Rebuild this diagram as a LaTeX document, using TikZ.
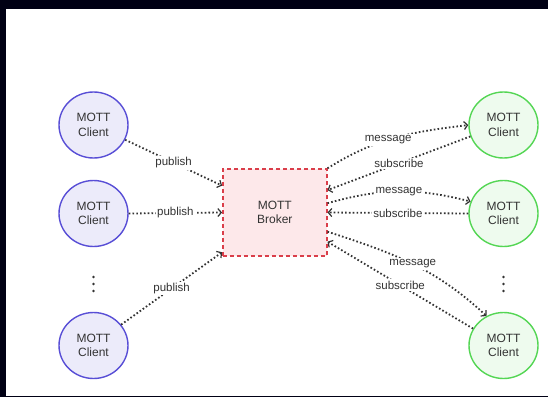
\documentclass[tikz,border=0pt]{standalone}
\usepackage{fontspec}
\setmainfont{Liberation Sans}
\usetikzlibrary{arrows.meta, shapes.geometric, positioning}
\definecolor{txtgray}{RGB}{51,51,51}
\definecolor{pubborder}{RGB}{88,78,214}
\definecolor{pubfill}{RGB}{236,235,250}
\definecolor{subborder}{RGB}{84,214,84}
\definecolor{subfill}{RGB}{238,251,238}
\definecolor{brkborder}{RGB}{218,62,74}
\definecolor{brkfill}{RGB}{253,232,234}
\tikzset{
    pubclient/.style={ellipse, draw=pubborder, fill=pubfill, line width=1.4pt,
        minimum width=69pt, minimum height=66pt, align=center, text=txtgray,
        font=\fontsize{12}{14.5}\selectfont},
    subclient/.style={pubclient, draw=subborder, fill=subfill},
    brokerbox/.style={rectangle, draw=brkborder, fill=brkfill, line width=1.4pt,
        dash pattern=on 4pt off 3pt, minimum width=104pt, minimum height=87pt,
        align=center, text=txtgray, font=\fontsize{12}{14.5}\selectfont},
    flow/.style={draw=txtgray, line width=1.8pt, dash pattern=on 1.6pt off 2.2pt,
        -{Straight Barb[length=3.5pt,width=8pt,line width=1.2pt]}},
    lbl/.style={fill=white, inner sep=1.5pt, text=txtgray,
        font=\fontsize{11.5}{13}\selectfont},
    vdot/.style={fill=txtgray},
}

\begin{document}
\begin{tikzpicture}[x=1pt,y=1pt]
    \fill[black!92!blue] (0,0) rectangle (548,397);
    \fill[white] (6,1) rectangle (548,388);

    \node[brokerbox] (brk) at (274.8,184.5) {MOTT\\Broker};

    \node[pubclient] (pa) at (93.5,272) {MOTT\\Client};
    \node[pubclient] (pb) at (93.5,183.5) {MOTT\\Client};
    \node[pubclient] (pc) at (93.5,51.5) {MOTT\\Client};

    \node[subclient] (sa) at (503.5,272) {MOTT\\Client};
    \node[subclient] (sb) at (503.5,183.5) {MOTT\\Client};
    \node[subclient] (sc) at (503.5,51.5) {MOTT\\Client};

    % more clients
    \foreach \y in {106,113,120} {
        \fill[vdot] (93.5,\y) circle (1.3);
        \fill[vdot] (503.5,\y) circle (1.3);
    }

    % publishers
    \draw[flow] (pa.-25) -- node[lbl] (puba) {publish} (brk.153);
    \draw[flow] (pb.east) -- node[lbl] (pubb) {publish} (brk.west);
    \draw[flow] (pc.37) -- node[lbl] (pubc) {publish} (brk.217);

    % subscribers
    \draw[flow] (brk.north east) to[out=32,in=187]
        node[lbl,pos=0.45] (msga) {message} (sa.west);
    \draw[flow] (sa.199) -- node[lbl] (suba) {subscribe} (brk.23);
    \draw[flow] (brk.10) to[bend left=15] node[lbl] (msgb) {message} (sb.160);
    \draw[flow] (sb.west) -- node[lbl] (subb) {subscribe} (brk.east);
    \draw[flow] (brk.-20) to[out=-18,in=137]
        node[lbl,pos=0.5] (msgc) {message} (sc.120);
    \draw[flow] (sc.151) -- node[lbl] (subc) {subscribe} (brk.-29);
\end{tikzpicture}
\end{document}
